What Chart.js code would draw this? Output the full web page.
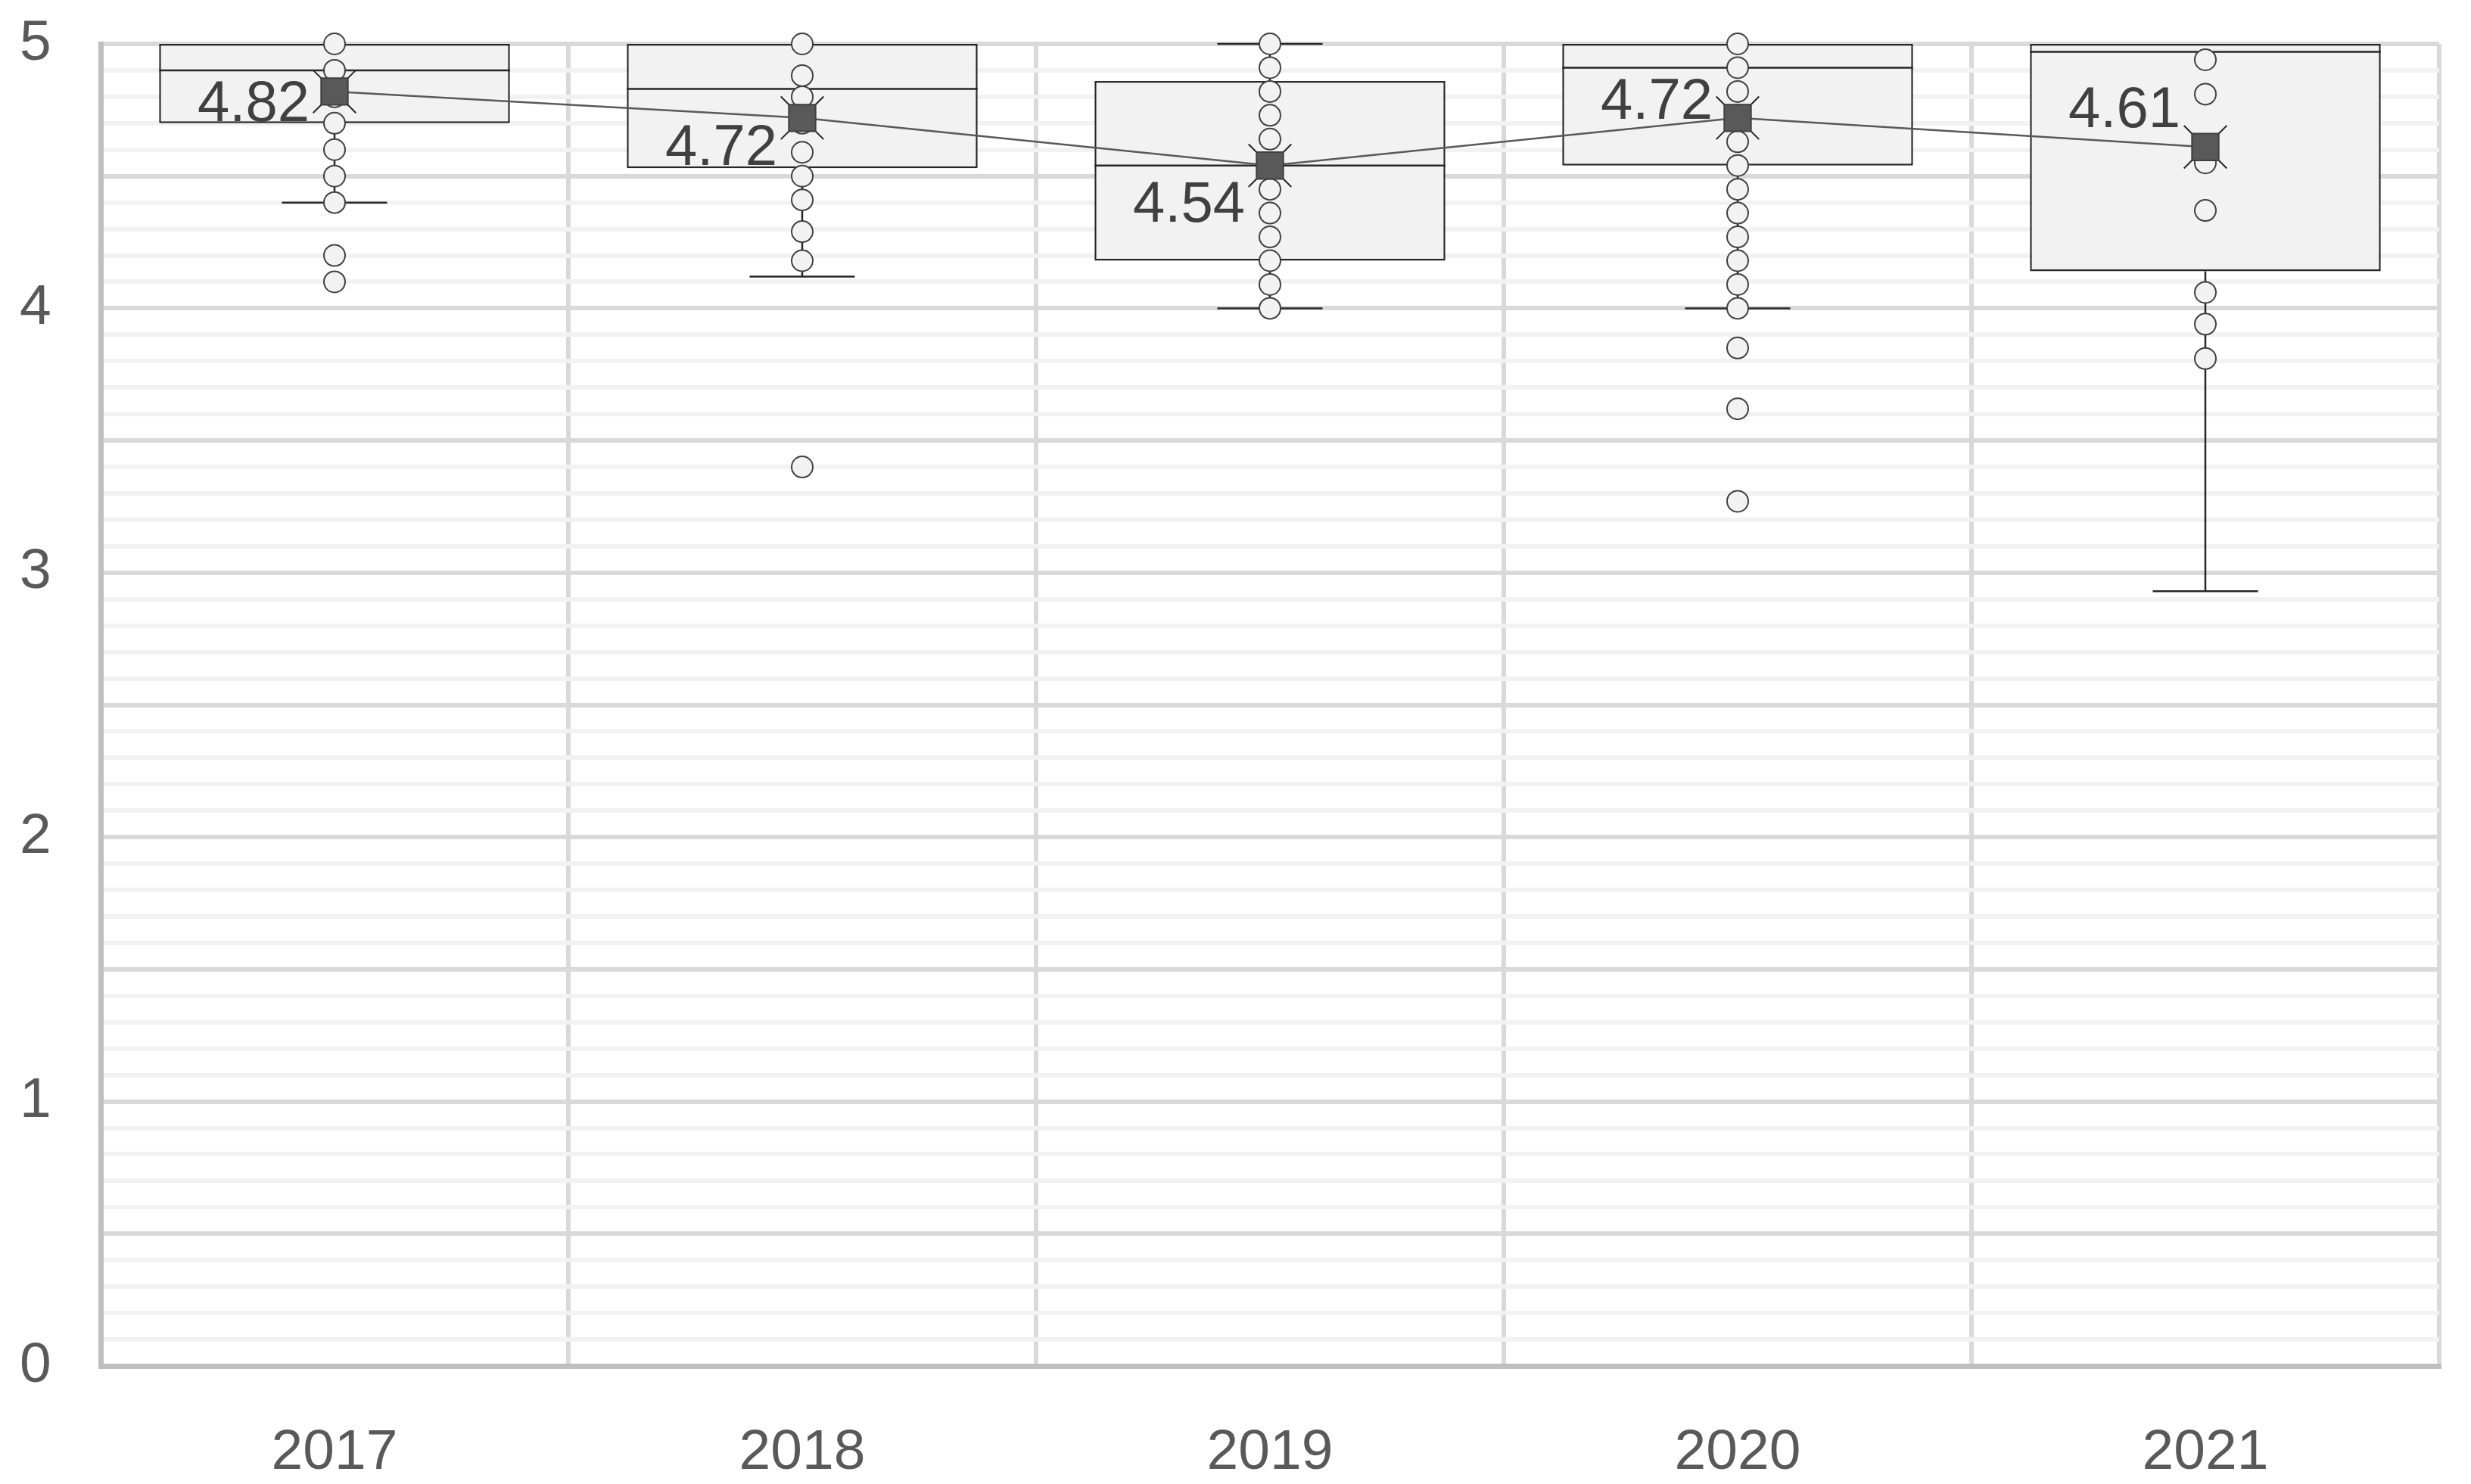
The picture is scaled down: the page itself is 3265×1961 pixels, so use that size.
<!DOCTYPE html>
<html>
<head>
<meta charset="utf-8">
<script src="https://cdn.jsdelivr.net/npm/chart.js@4.4.0/dist/chart.umd.min.js"></script>
<style>
  html, body { margin: 0; padding: 0; background: #ffffff; overflow: hidden; }
  #wrap { width: 3265px; height: 1961px; }
</style>
</head>
<body>
<div id="wrap"><canvas id="boxChart"></canvas></div>
<script>
// Box & whisker per year
var years = ['2017', '2018', '2019', '2020', '2021'];
var whiskerLow = [4.40, 4.12, 4.00, 4.00, 2.93];
var q1 = [4.70, 4.53, 4.18, 4.54, 4.14];
var median = [4.90, 4.83, 4.54, 4.91, 4.97];
var q3 = [5.00, 5.00, 4.86, 5.00, 5.00];
var whiskerHigh = [5.00, 5.00, 5.00, 5.00, 5.00];
var means = [4.82, 4.72, 4.54, 4.72, 4.61];

// inner points + outliers
var points2017 = [5.0, 4.9, 4.8, 4.7, 4.6, 4.5, 4.4, 4.2, 4.1];
var points2018 = [5.0, 4.88, 4.8, 4.7, 4.59, 4.5, 4.41, 4.29, 4.18, 3.4];
var points2019 = [5.0, 4.91, 4.82, 4.73, 4.64, 4.55, 4.45, 4.36, 4.27, 4.18, 4.09, 4.0];
var points2020 = [5.0, 4.91, 4.82, 4.73, 4.63, 4.54, 4.45, 4.36, 4.27, 4.18, 4.09, 4.0, 3.85, 3.62, 3.27];
var points2021 = [4.94, 4.81, 4.55, 4.37, 4.06, 3.94, 3.81];
var pointsByYear = [points2017, points2018, points2019, points2020, points2021];

// y axis: labels at whole numbers, grid every 0.1
var yLabels = [0, 1, 2, 3, 4, 5];
var yMin = 0, yMax = 5, yStep = 0.1;

var FONT = '"Liberation Sans", Arial, sans-serif';

var innerPoints = [];
pointsByYear.forEach(function (list, i) {
    list.forEach(function (v) { innerPoints.push({ x: years[i], y: v }); });
});

// whiskers, caps and median lines drawn right after the boxes
var boxWhiskers = {
    id: 'boxWhiskers',
    afterDatasetDraw: function (chart, args) {
        if (args.index !== 0) return;
        var ctx = chart.ctx;
        var y = chart.scales.y;
        ctx.save();
        ctx.strokeStyle = '#262626';
        ctx.lineWidth = 2.5;
        args.meta.data.forEach(function (bar, i) {
            var p = bar.getProps(['x', 'width'], true);
            var half = p.width / 2;
            var cap = p.width * 0.15;
            var yMed = y.getPixelForValue(median[i]);
            var yQ1 = y.getPixelForValue(q1[i]);
            var yQ3 = y.getPixelForValue(q3[i]);
            var yLo = y.getPixelForValue(whiskerLow[i]);
            var yHi = y.getPixelForValue(whiskerHigh[i]);
            ctx.beginPath();
            ctx.moveTo(p.x - half, yMed); ctx.lineTo(p.x + half, yMed);
            ctx.moveTo(p.x, yQ1); ctx.lineTo(p.x, yLo);
            ctx.moveTo(p.x - cap, yLo); ctx.lineTo(p.x + cap, yLo);
            if (whiskerHigh[i] > q3[i]) {
                ctx.moveTo(p.x, yQ3); ctx.lineTo(p.x, yHi);
                ctx.moveTo(p.x - cap, yHi); ctx.lineTo(p.x + cap, yHi);
            }
            ctx.stroke();
        });
        ctx.restore();
    }
};

// "4.82" style labels to the left of the mean markers
var meanLabels = {
    id: 'meanLabels',
    afterDatasetsDraw: function (chart, args, opts) {
        var meta = chart.getDatasetMeta(3);
        var ctx = chart.ctx;
        ctx.save();
        ctx.font = '76px ' + FONT;
        ctx.fillStyle = '#404040';
        ctx.textAlign = 'right';
        ctx.textBaseline = 'middle';
        meta.data.forEach(function (pt, i) {
            ctx.fillText(means[i].toFixed(2), pt.x - opts.gap, pt.y + opts.nudge[i]);
        });
        ctx.restore();
    }
};

var ctx1 = document.getElementById('boxChart').getContext('2d');
var boxChart = new Chart(ctx1, {
    type: 'bar',
    data: {
        labels: years,
        datasets: [{
            label: 'Box',
            data: years.map(function (y, i) { return [q1[i], q3[i]]; }),
            backgroundColor: '#f2f2f2',
            borderColor: '#262626',
            borderWidth: 2.5,
            borderSkipped: false,
            barPercentage: 0.75,
            categoryPercentage: 1,
            order: 5
        }, {
            type: 'line',
            label: 'Points',
            data: innerPoints,
            showLine: false,
            pointStyle: 'circle',
            pointRadius: 14,
            pointBorderWidth: 2,
            pointBackgroundColor: '#f2f2f2',
            pointBorderColor: '#404040',
            clip: false,
            order: 3
        }, {
            type: 'line',
            label: 'Mean marker',
            data: means,
            showLine: false,
            pointStyle: 'crossRot',
            pointRadius: 40,
            pointBorderWidth: 2,
            pointBorderColor: '#262626',
            clip: false,
            order: 2
        }, {
            type: 'line',
            label: 'Mean',
            data: means,
            borderColor: '#595959',
            borderWidth: 2.5,
            pointStyle: 'rect',
            pointRadius: 25,
            pointBorderWidth: 2,
            pointBackgroundColor: '#595959',
            pointBorderColor: '#404040',
            clip: false,
            order: 1
        }]
    },
    options: {
        responsive: true,
        maintainAspectRatio: false,
        animation: false,
        events: [],
        layout: {
            padding: { top: 58, right: 18, left: 26, bottom: 0 }
        },
        plugins: {
            legend: { display: false },
            tooltip: { enabled: false },
            meanLabels: { gap: 33, nudge: [18, 41, 53, -20, -47] }
        },
        scales: {
            x: {
                offset: true,
                grid: {
                    offset: true,
                    color: '#d9d9d9',
                    lineWidth: 6,
                    drawTicks: false
                },
                border: { color: '#bfbfbf', width: 7 },
                ticks: {
                    color: '#595959',
                    font: { family: FONT, size: 75 },
                    padding: 70
                },
                afterFit: function (scale) { scale.height = 156; }
            },
            y: {
                min: yMin,
                max: yMax,
                afterBuildTicks: function (scale) {
                    var t = [];
                    for (var k = 0; k <= Math.round((yMax - yMin) / yStep); k++) {
                        t.push({ value: Math.round((yMin + k * yStep) * 10) / 10 });
                    }
                    scale.ticks = t;
                },
                grid: {
                    drawTicks: false,
                    lineWidth: 6,
                    color: function (c) {
                        var v = c.tick ? c.tick.value : 0;
                        return Math.abs(v * 2 - Math.round(v * 2)) < 1e-6 ? '#d9d9d9' : '#f2f2f2';
                    }
                },
                border: { color: '#bfbfbf', width: 7 },
                ticks: {
                    autoSkip: false,
                    crossAlign: 'far',
                    color: '#595959',
                    font: { family: FONT, size: 75 },
                    padding: 0,
                    callback: function (v) {
                        return yLabels.indexOf(Math.round(v * 10) / 10) >= 0 ? String(v) : '';
                    }
                },
                afterFit: function (scale) { scale.width = 133 - 26; }
            }
        }
    },
    plugins: [boxWhiskers, meanLabels]
});
</script>
</body>
</html>
